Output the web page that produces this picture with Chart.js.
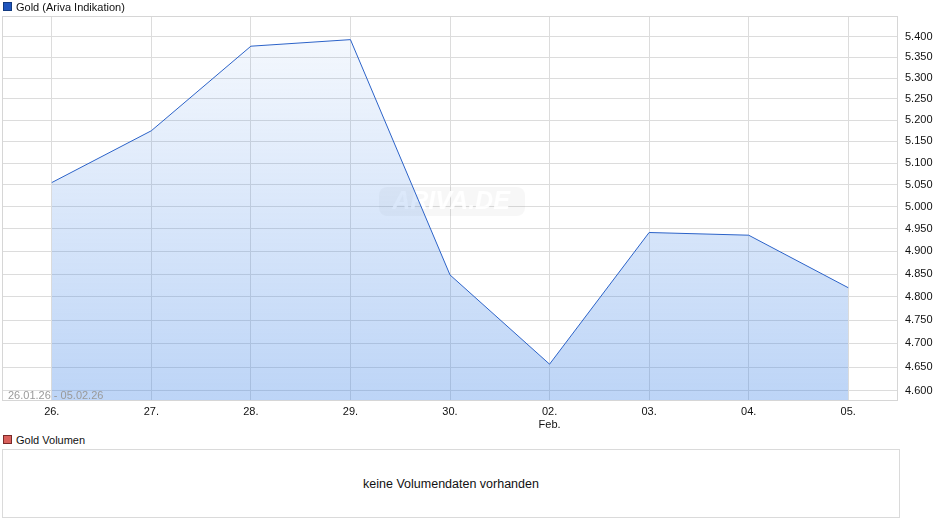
<!DOCTYPE html>
<html>
<head>
<meta charset="utf-8">
<script src="https://cdn.jsdelivr.net/npm/chart.js@4.4.1/dist/chart.umd.min.js"></script>
<style>
  body { margin: 0; background: #fff; font-family: "Liberation Sans", Arial, sans-serif; }
  #wrap { position: relative; width: 940px; height: 526px; }
  #main { position: absolute; left: 0; top: 0; }
  .legend { position: absolute; left: 3px; font-size: 11px; color: #111; line-height: 12px; }
  .legend span.box { display: inline-block; width: 7px; height: 7px; margin-right: 4px; vertical-align: 0px; }
  #volBox { position: absolute; left: 2px; top: 449px; width: 896px; height: 67px; border: 1px solid #dadada;
            text-align: center; line-height: 68px; font-size: 12.5px; color: #111; }
</style>
</head>
<body>
<div id="wrap">
  <canvas id="main" width="940" height="432"></canvas>
  <div class="legend" style="top:1px"><span class="box" style="background:#1f55bd;border:1px solid #123a80"></span>Gold (Ariva Indikation)</div>
  <div class="legend" style="top:434px"><span class="box" style="background:#d9605c;border:1px solid #7a2a28"></span>Gold Volumen</div>
  <div id="volBox">keine Volumendaten vorhanden</div>
</div>
<script>
// Kursdaten (Ariva Indikation), 26.01.26 - 05.02.26
const days = ['26.', '27.', '28.', '29.', '30.', ['02.', 'Feb.'], '03.', '04.', '05.'];
const goldPrice = [5055, 5175, 5377, 5393, 4848, 4656, 4942, 4936, 4820];
const priceTicks = [4600, 4650, 4700, 4750, 4800, 4850, 4900, 4950, 5000, 5050, 5100, 5150, 5200, 5250, 5300, 5350, 5400];
const rangeLabel = '26.01.26 - 05.02.26';

function fmt(v) {
  // deutsche Tausenderpunkte
  return String(Math.round(v)).replace(/\B(?=(\d{3})+(?!\d))/g, '.');
}

// Rahmen, Wasserzeichen und Zeitraum
const extras = {
  id: 'extras',
  beforeDatasetsDraw(chart) {
    const a = chart.chartArea, c = chart.ctx;
    c.save();
    const cx = (a.left + a.right) / 2 + 1, cy = 201;
    c.fillStyle = 'rgba(0,0,0,0.03)';
    c.beginPath();
    c.roundRect(cx - 72, cy - 14, 146, 29, 8);
    c.fill();
    c.font = 'italic bold 25px "Liberation Sans", Arial, sans-serif';
    c.textAlign = 'center';
    c.textBaseline = 'middle';
    c.fillStyle = 'rgba(255,255,255,0.9)';
    c.fillText('ARIVA.DE', cx, cy + 1);
    c.restore();
  },
  afterDatasetsDraw(chart) {
    const a = chart.chartArea, c = chart.ctx;
    c.save();
    c.font = '11px "Liberation Sans", Arial, sans-serif';
    c.fillStyle = '#9a9a9a';
    c.textBaseline = 'alphabetic';
    c.fillText(rangeLabel, a.left + 6, a.bottom - 2);
    c.strokeStyle = '#d6d6d6';
    c.lineWidth = 1;
    c.strokeRect(a.left + 0.5, a.top + 0.5, a.right - a.left - 1, a.bottom - a.top - 1);
    c.restore();
  }
};

const ctx = document.getElementById('main').getContext('2d');
const chart = new Chart(ctx, {
  type: 'line',
  data: {
    labels: days,
    datasets: [{
      label: 'Gold (Ariva Indikation)',
      data: goldPrice,
      borderColor: '#2b62c8',
      borderWidth: 1,
      pointRadius: 0,
      tension: 0,
      fill: 'start',
      backgroundColor: (context) => {
        const a = context.chart.chartArea;
        if (!a) return 'rgba(60,130,230,0.2)';
        const g = context.chart.ctx.createLinearGradient(0, a.top, 0, a.bottom);
        g.addColorStop(0, 'rgba(60,130,230,0.04)');
        g.addColorStop(1, 'rgba(60,130,230,0.34)');
        return g;
      }
    }]
  },
  options: {
    responsive: false,
    animation: false,
    layout: { padding: { top: 16, left: 2, right: 0, bottom: 0 } },
    plugins: { legend: { display: false }, tooltip: { enabled: false } },
    scales: {
      x: {
        offset: true,
        grid: { color: '#dcdcdc', drawTicks: false, offset: false },
        border: { display: false },
        ticks: {
          color: '#111', padding: 4, maxRotation: 0, autoSkip: false,
          font: { family: '"Liberation Sans", Arial, sans-serif', size: 11 }
        },
        afterFit: (s) => { s.height = 31; }
      },
      y: {
        type: 'logarithmic',
        position: 'right',
        min: 4579,
        max: 5451,
        afterBuildTicks: (s) => { s.ticks = priceTicks.map(v => ({ value: v })); },
        grid: { color: '#dcdcdc', drawTicks: false },
        border: { display: false },
        ticks: {
          color: '#111', padding: 7,
          font: { family: '"Liberation Sans", Arial, sans-serif', size: 11 },
          callback: (v) => fmt(v)
        },
        afterFit: (s) => { s.width = 42; }
      }
    }
  },
  plugins: [extras]
});
</script>
</body>
</html>
